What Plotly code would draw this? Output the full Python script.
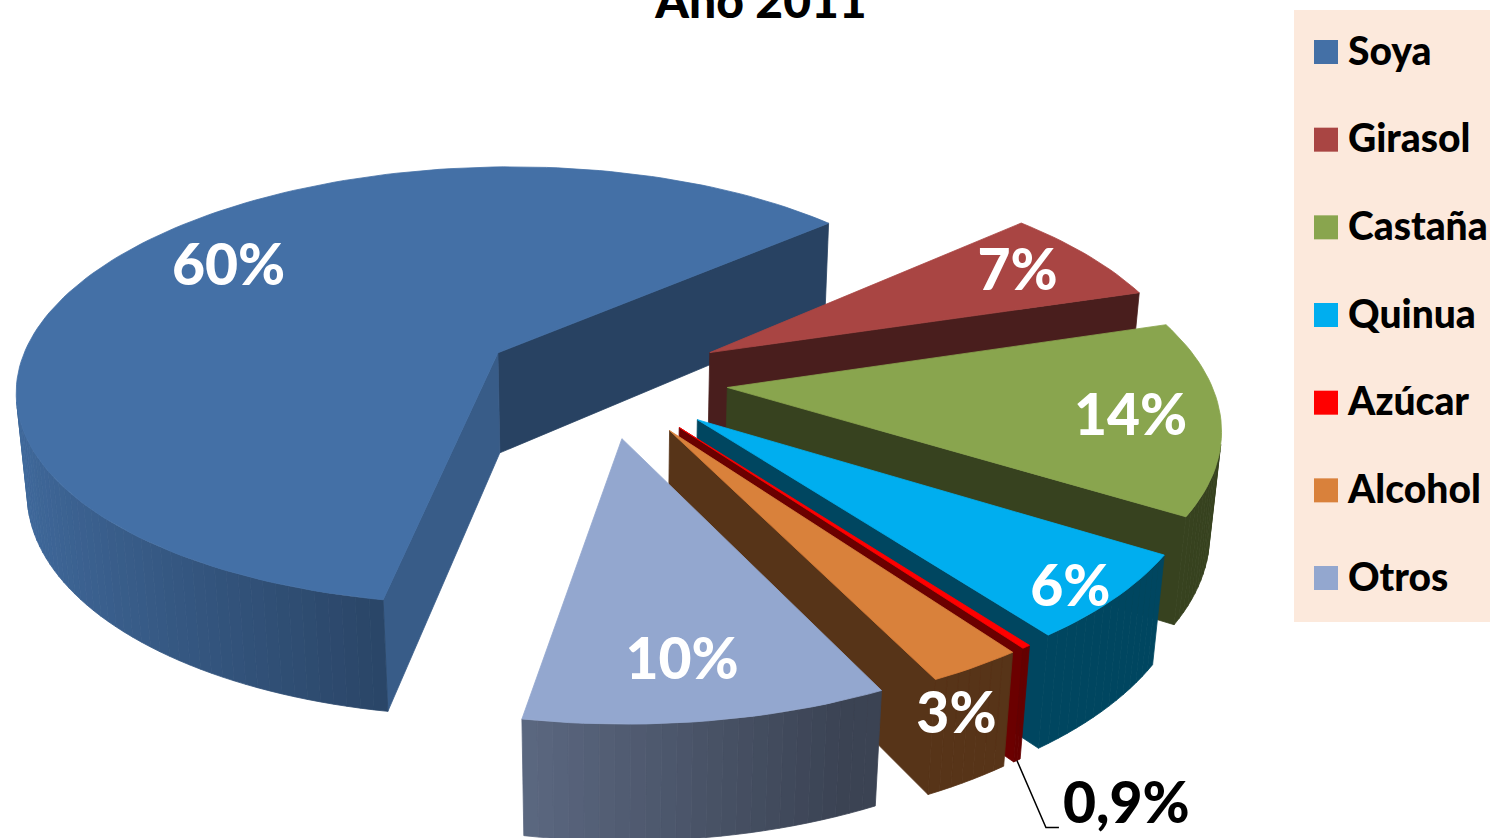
import numpy as np
import plotly.graph_objects as go

# ---- data ----
categories = ["Soya", "Girasol", "Castaña", "Quinua", "Azúcar", "Alcohol", "Otros"]
values = [60, 7, 14, 6, 0.9, 3, 10]
labels = ["60%", "7%", "14%", "6%", "0,9%", "3%", "10%"]
title_text = "Año 2011"

# ---- style ----
top_colors = ["#4470A6", "#A94543", "#89A54E", "#00AEEF", "#FF0000", "#D9813B", "#93A7CF"]
start_shade = [0.82, 0.42, 0.42, 0.40, 0.42, 0.40, 0.40]
end_shade = [0.59, 0.43, 0.40, 0.40, 0.42, 0.40, 0.40]
# the reference's 3-D rendering distorts slice angles a little (degrees)
span_adjust = [4.13, -0.18, -0.95, 0.09, -2.31, -1.10, 0.32]
label_r = [0.75, 0.80, 0.80, 0.89, None, 1.07, 0.78]
label_da = [6.9, -1.4, 0.2, 1.0, 0.0, 5.8, 0.8]
LABEL_DY = 8
FONT = "Lato"

# ---- 3-D pie geometry ----
START = 190.0
EXPLODE = 0.25
R = 0.975
H = 0.235
U0, V0, K = 604.0, 380.0, 495.0
S, C, E = 0.46, 0.888, 0.176


def proj(x, y, z):
    den = 1 + E * (C * y - S * z)
    return U0 + K * x / den, V0 - K * (S * y + C * z) / den


def area(pts):
    a = 0.0
    for i in range(len(pts)):
        x0, y0 = pts[i]
        x1, y1 = pts[(i + 1) % len(pts)]
        a += x0 * y1 - x1 * y0
    return a / 2


def mix(hex_color, f):
    r, g, b = (int(hex_color[i:i + 2], 16) for i in (1, 3, 5))
    return f"rgb({r * f:.0f},{g * f:.0f},{b * f:.0f})"


fig = go.Figure()


def poly(pts, color):
    xs = [p[0] for p in pts] + [pts[0][0]]
    ys = [p[1] for p in pts] + [pts[0][1]]
    fig.add_trace(go.Scatter(x=xs, y=ys, mode="lines", fill="toself", fillcolor=color,
                             line=dict(color=color, width=0.8), hoverinfo="skip", showlegend=False))


total = sum(values)
angle = START
mids = []
centers = []
for i, val in enumerate(values):
    span = val / total * 360 + span_adjust[i]
    a0, a1 = angle, angle + span
    angle = a1
    mid = np.radians((a0 + a1) / 2)
    mids.append(mid)
    cx, cy = EXPLODE * np.sin(mid), EXPLODE * np.cos(mid)
    centers.append((cx, cy))
    n = max(2, int(span / 1.5) + 1)
    th = np.radians(np.linspace(a0, a1, n + 1))
    rx, ry = cx + R * np.sin(th), cy + R * np.cos(th)
    walls = []
    for j in range(n):
        q3 = [(rx[j], ry[j], 0), (rx[j + 1], ry[j + 1], 0), (rx[j + 1], ry[j + 1], -H), (rx[j], ry[j], -H)]
        q = [proj(*p) for p in q3]
        nx = np.sin((th[j] + th[j + 1]) / 2)
        f = max(0.40, 0.55 - 0.40 * nx)
        walls.append((area(q), (ry[j] + ry[j + 1]) / 2, q, mix(top_colors[i], f)))
    q_s = [proj(cx, cy, 0), proj(rx[0], ry[0], 0), proj(rx[0], ry[0], -H), proj(cx, cy, -H)]
    q_e = [proj(rx[-1], ry[-1], 0), proj(cx, cy, 0), proj(cx, cy, -H), proj(rx[-1], ry[-1], -H)]
    walls.append((area(q_s), (cy + ry[0]) / 2, q_s, mix(top_colors[i], start_shade[i])))
    walls.append((area(q_e), (cy + ry[-1]) / 2, q_e, mix(top_colors[i], end_shade[i])))
    visible = [w for w in walls if w[0] < 0]
    for w in sorted(visible, key=lambda w: -w[1]):
        poly(w[2], w[3])
    top = [proj(cx, cy, 0)] + [proj(a, b, 0) for a, b in zip(rx, ry)]
    poly(top, top_colors[i])
    if i == 4:
        leader_start = proj(cx + R * np.sin(mid), cy + R * np.cos(mid), -H)

for i, lab in enumerate(labels):
    if label_r[i] is None:
        continue
    cx, cy = centers[i]
    a = mids[i] + np.radians(label_da[i])
    x, y = proj(cx + label_r[i] * np.sin(a), cy + label_r[i] * np.cos(a), 0)
    fig.add_trace(go.Scatter(x=[x], y=[y + LABEL_DY], mode="text", text=[lab], textposition="middle center",
                             textfont=dict(family=FONT, size=57, color="white", weight=900),
                             hoverinfo="skip", showlegend=False))

lx, ly = leader_start
fig.add_trace(go.Scatter(x=[lx, lx + 29, lx + 42], y=[ly, ly + 67, ly + 67], mode="lines",
                         line=dict(color="black", width=1.5), hoverinfo="skip", showlegend=False))
fig.add_trace(go.Scatter(x=[lx + 46], y=[ly + 48], mode="text", text=[labels[4]], textposition="middle right",
                         textfont=dict(family=FONT, size=57, color="black", weight=900),
                         hoverinfo="skip", showlegend=False))

LEG_Y0, LEG_STEP = 52.0, 87.67
leg_y = [LEG_Y0 + i * LEG_STEP for i in range(len(categories))]
fig.add_trace(go.Scatter(x=[1326] * 7, y=leg_y, mode="markers",
                         marker=dict(symbol="square", size=24, color=top_colors, line=dict(width=0)),
                         hoverinfo="skip", showlegend=False))
fig.add_trace(go.Scatter(x=[1348] * 7, y=[v + 3 for v in leg_y], mode="text", text=categories,
                         textposition="middle right",
                         textfont=dict(family=FONT, size=39, color="black", weight=900),
                         hoverinfo="skip", showlegend=False, cliponaxis=False))

fig.update_layout(
    width=1490, height=838, margin=dict(l=0, r=0, t=0, b=0),
    autosize=False,
    paper_bgcolor="white", plot_bgcolor="white",
    xaxis=dict(range=[0, 1490], visible=False, fixedrange=True),
    yaxis=dict(range=[838, 0], visible=False, fixedrange=True),
    title=dict(text=title_text, x=761 / 1490, xanchor="center", y=0.998, yanchor="middle",
               font=dict(family=FONT, size=48, color="black", weight=900)),
    shapes=[dict(type="rect", xref="x", yref="y", x0=1294, x1=1490, y0=10, y1=622,
                 fillcolor="#FCE9DC", line=dict(width=0), layer="below")],
)
fig.write_html("out.html", config={"displayModeBar": False},
               post_script="document.body.style.margin='0';document.body.style.overflow='hidden';")
